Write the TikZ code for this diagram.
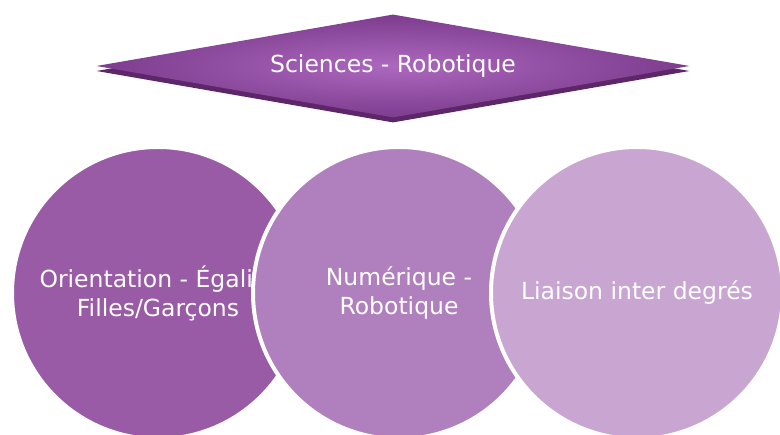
\documentclass[tikz,border=0pt]{standalone}
\usepackage{fontspec}
\setmainfont{DejaVu Sans}
\usetikzlibrary{shapes.geometric,shadows}
\definecolor{plumdark}{HTML}{7D3C8E}
\definecolor{plumlight}{HTML}{AC68BE}
\definecolor{plumshadow}{HTML}{5C2669}
\definecolor{plumA}{HTML}{9A5BA6}
\definecolor{plumB}{HTML}{B07FBE}
\definecolor{plumC}{HTML}{C8A6D1}
\begin{document}
\begin{tikzpicture}[x=1pt, y=1pt,
   every node/.style={text=white, font=\fontsize{23.5}{29}\selectfont, align=center, inner sep=0pt},
   disc/.style={circle, minimum size=292pt, draw=white, line width=4pt},
   banner/.style={diamond, aspect=5.76, minimum width=593pt, minimum height=103pt,
      shading=radial, inner color=plumlight, outer color=plumdark,
      copy shadow={shadow xshift=0pt, shadow yshift=-5pt, fill=plumshadow, draw=none}}]

\useasboundingbox (0,0) rectangle (780,435);
\clip (0,0) rectangle (780,435);

\node[banner] (topic) at (393,369) {Sciences - Robotique};

\node[disc, fill=plumA] (orient) at (158,142) {Orientation - Égalité\\Filles/Garçons};
\node[disc, fill=plumB] (digital) at (399,142) {Numérique -\\Robotique};
\node[disc, fill=plumC] (liaison) at (637,142) {Liaison inter degrés};

\end{tikzpicture}
\end{document}
